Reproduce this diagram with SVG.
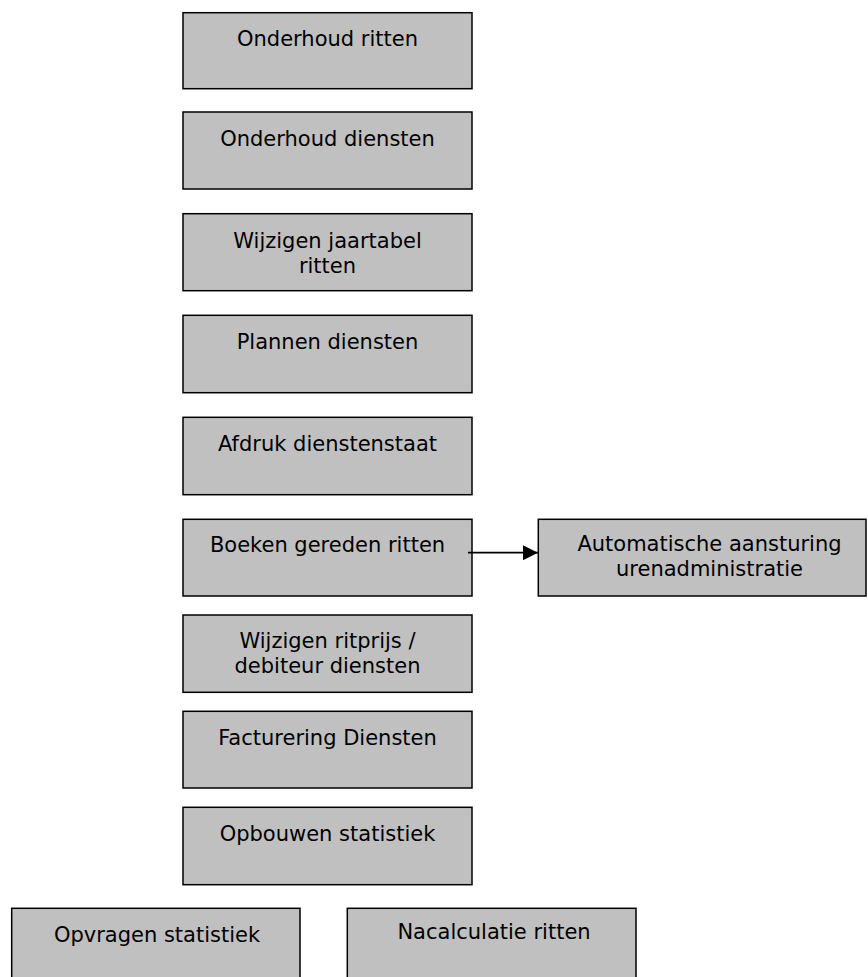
<svg xmlns="http://www.w3.org/2000/svg" width="868" height="977" viewBox="0 0 868 977">
<defs>
<style>
.box{fill:#c0c0c0;stroke:#000;stroke-width:1.5}
.t{font-family:"DejaVu Sans","Verdana",sans-serif;font-size:21px;fill:#000;text-anchor:middle}
.c{stroke:#000;stroke-width:1.8;fill:none}
</style>
<marker id="ah" viewBox="0 0 10 10" refX="10" refY="5" markerWidth="15" markerHeight="15" markerUnits="userSpaceOnUse" orient="auto"><path d="M0,0 L10,5 L0,10 Z" fill="#000"/></marker>
</defs>
<rect width="868" height="977" fill="#fff"/>
<g id="n1"><rect class="box" x="183" y="12.7" width="289" height="76"/><text class="t" x="327.5" y="45.5">Onderhoud ritten</text></g>
<g id="n2"><rect class="box" x="183" y="112" width="289" height="77"/><text class="t" x="327.5" y="145.5">Onderhoud diensten</text></g>
<g id="n3"><rect class="box" x="183" y="213.7" width="289" height="77"/><text class="t" x="327.5" y="247.5">Wijzigen jaartabel</text><text class="t" x="327.5" y="272.5">ritten</text></g>
<g id="n4"><rect class="box" x="183" y="315.3" width="289" height="77.4"/><text class="t" x="327.5" y="348.5">Plannen diensten</text></g>
<g id="n5"><rect class="box" x="183" y="417.3" width="289" height="77.4"/><text class="t" x="327.5" y="450.5">Afdruk dienstenstaat</text></g>
<g id="n6"><rect class="box" x="183" y="519.3" width="289" height="76.7"/><text class="t" x="327.5" y="552">Boeken gereden ritten</text></g>
<g id="n7"><rect class="box" x="183" y="615" width="289" height="77.3"/><text class="t" x="327.5" y="648">Wijzigen ritprijs /</text><text class="t" x="327.5" y="673">debiteur diensten</text></g>
<g id="n8"><rect class="box" x="183" y="711.3" width="289" height="76.7"/><text class="t" x="327.5" y="744.5">Facturering Diensten</text></g>
<g id="n9"><rect class="box" x="183" y="807.3" width="289" height="77.4"/><text class="t" x="327.5" y="840.5">Opbouwen statistiek</text></g>
<g id="n10"><rect class="box" x="538.3" y="519.3" width="327.7" height="76.7"/><text class="t" x="709.5" y="551">Automatische aansturing</text><text class="t" x="709.5" y="576">urenadministratie</text></g>
<g id="n11"><rect class="box" x="11.7" y="908.3" width="288.3" height="80"/><text class="t" x="157" y="942">Opvragen statistiek</text></g>
<g id="n12"><rect class="box" x="347.3" y="908.3" width="288.7" height="80"/><text class="t" x="494" y="939">Nacalculatie ritten</text></g>
<g id="connectors"><line class="c" x1="468" y1="552.7" x2="538" y2="552.7" marker-end="url(#ah)"/></g>
</svg>
